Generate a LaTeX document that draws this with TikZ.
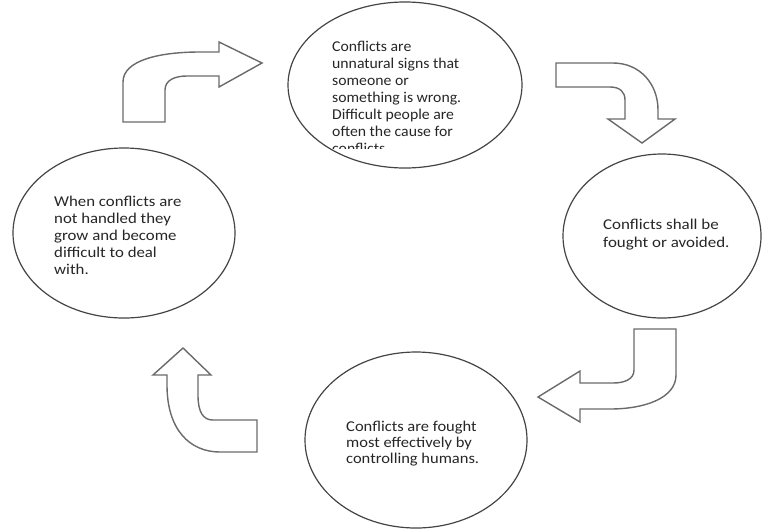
\documentclass[tikz,border=0pt]{standalone}
\usepackage{fontspec}
\usepackage{graphicx}
\setmainfont{Carlito}
\usetikzlibrary{shapes.geometric}
\definecolor{ringcol}{HTML}{444444}
\definecolor{arrowcol}{HTML}{6A6A6A}
\definecolor{txtcol}{HTML}{262626}
\newcommand\stretchlines[2]{\scalebox{#1}[1]{\begin{tabular}[t]{@{}l@{}}#2\end{tabular}}}
\tikzset{
  ring/.style={ellipse, draw=ringcol, line width=1.2pt, inner sep=0pt},
  label/.style={font=\fontsize{15}{17}\selectfont, text=txtcol, inner sep=0pt, anchor=base west},
  blockarrow/.style={draw=arrowcol, line width=1.4pt, fill=white, line join=miter}
}
\begin{document}
\begin{tikzpicture}[x=1pt,y=-1pt]
\useasboundingbox (0,0) rectangle (762,531);
% ellipses
\node[ring, minimum width=234pt, minimum height=166pt] (top) at (405,85) {};
\node[ring, minimum width=198pt, minimum height=164pt] (right) at (662,236) {};
\node[ring, minimum width=222pt, minimum height=176pt] (bottom) at (416,440) {};
\node[ring, minimum width=222pt, minimum height=170pt] (left) at (124,233) {};
% texts
\begin{scope}
\clip (290,0) rectangle (520,148);
\node[label] (ttop) at (332,51) {\stretchlines{1.05}{Conflicts are\\unnatural signs that\\someone or\\something is wrong.\\Difficult people are\\often the cause for\\conflicts.}};
\end{scope}
\node[label, font=\fontsize{15}{18}\selectfont] (tright) at (603,229) {\stretchlines{1.13}{Conflicts shall be\\fought or avoided.}};
\node[label, font=\fontsize{15}{16}\selectfont] (tbottom) at (346,431) {\stretchlines{1.1}{Conflicts are fought\\most effectively by\\controlling humans.}};
\node[label] (tleft) at (54,206) {\stretchlines{1.12}{When conflicts are\\not handled they\\grow and become\\difficult to deal\\with.}};
% bent block arrows
\draw[blockarrow] (123,122) -- (123,82) .. controls (123,60) and (160,52) .. (200,52)
  -- (219,52) -- (219,42) -- (262,63) -- (219,87) -- (219,76) -- (187,76)
  .. controls (175,76) and (165,80) .. (165,90) -- (165,122) -- cycle;
\draw[blockarrow] (556,63) -- (613,63) .. controls (640,63) and (658,84) .. (658,110)
  -- (658,119) -- (675,119) -- (642,143) -- (608,119) -- (625,119) -- (625,100)
  .. controls (625,92) and (620,87) .. (610,87) -- (556,87) -- cycle;
\draw[blockarrow] (634,329) -- (676,329) -- (676,375) .. controls (676,398) and (645,409) .. (610,409)
  -- (580,409) -- (580,422) -- (538,397) -- (580,371) -- (580,383) -- (613,383)
  .. controls (625,383) and (634,379) .. (634,370) -- cycle;
\draw[blockarrow] (183,348) -- (211,375) -- (198,375) -- (198,395)
  .. controls (198,412) and (203,420) .. (213,420) -- (257,420) -- (257,452) -- (220,452)
  .. controls (190,452) and (167,430) .. (167,385) -- (167,375) -- (153,375) -- cycle;
\end{tikzpicture}
\end{document}
